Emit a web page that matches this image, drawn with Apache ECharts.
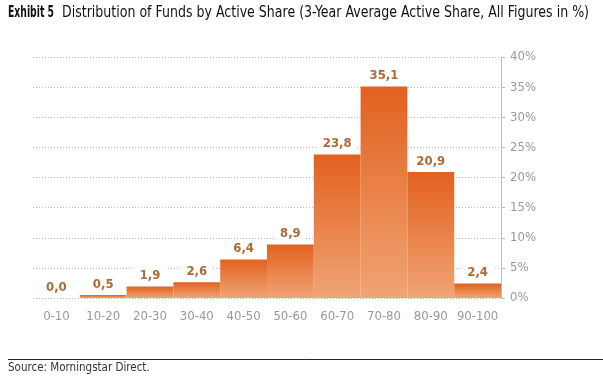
<!DOCTYPE html>
<html><head><meta charset="utf-8">
<script src="https://cdn.jsdelivr.net/npm/echarts@6/dist/echarts.min.js"></script>
<style>html,body{margin:0;padding:0;background:#fff}#c{width:603px;height:379px}</style>
</head><body><div id="c"></div>
<script>
const categories = ['0-10','10-20','20-30','30-40','40-50','50-60','60-70','70-80','80-90','90-100'];
const values = [0.0, 0.5, 1.9, 2.6, 6.4, 8.9, 23.8, 35.1, 20.9, 2.4];
const yTicks = [0, 5, 10, 15, 20, 25, 30, 35, 40];
const titleBold = 'Exhibit 5';
const titleRest = 'Distribution of Funds by Active Share (3-Year Average Active Share, All Figures in %)';
const FONT = "'DejaVu Sans Condensed', 'Liberation Sans Narrow', sans-serif";

const ctx = document.createElement('canvas').getContext('2d');
function widthOf(text, font) { ctx.font = font; return ctx.measureText(text).width; }
const TSIZE = 16;
const boldFont = 'bold ' + TSIZE + 'px ' + FONT;
const restFont = TSIZE + 'px ' + FONT;
const boldScale = 46 / widthOf(titleBold, boldFont);
const restScale = 527 / widthOf(titleRest, restFont);

const chart = echarts.init(document.getElementById('c'));
chart.setOption({
  animation: false,
  grid: { left: 33, right: 102, top: 57, bottom: 81, containLabel: false },
  graphic: [
    { type: 'text', x: 8, y: 5, scaleX: boldScale, style: { text: titleBold, font: boldFont, fill: '#111' } },
    { type: 'text', x: 62, y: 5, scaleX: restScale, style: { text: titleRest, font: restFont, fill: '#111' } },
    { type: 'line', shape: { x1: 8, y1: 359.5, x2: 603, y2: 359.5 }, style: { stroke: '#222', lineWidth: 1 } },
    { type: 'text', x: 8, y: 362, style: { text: 'Source: Morningstar Direct.', font: "11.5px " + FONT, fill: '#333' } }
  ],
  xAxis: {
    type: 'category', data: categories,
    axisLine: { show: false }, axisTick: { show: false },
    axisLabel: { color: '#999', fontFamily: FONT, fontSize: 13, margin: 12, interval: 0 }
  },
  yAxis: {
    type: 'value', position: 'right', min: 0, max: 40, interval: 5,
    axisLine: { show: true, lineStyle: { color: '#bbb' } },
    axisTick: { show: true, length: 4, lineStyle: { color: '#bbb' } },
    axisLabel: { color: '#999', fontFamily: FONT, fontSize: 13, margin: 9,
      formatter: v => yTicks.includes(v) ? v + '%' : '' },
    splitLine: { show: true, lineStyle: { color: '#bbb', type: [1, 2] } }
  },
  series: [{
    type: 'bar', data: values, barCategoryGap: '0%',
    itemStyle: {
      color: new echarts.graphic.LinearGradient(0, 0, 0, 1, [
        { offset: 0, color: '#e2611f' }, { offset: 1, color: '#f0a474' }
      ])
    },
    label: {
      show: true, position: 'top', distance: 3,
      formatter: p => p.value.toFixed(1).replace('.', ','),
      color: '#ae6a36', fontWeight: 'bold', fontFamily: FONT, fontSize: 13,
      backgroundColor: '#fff', padding: [2, 5, 1, 5]
    }
  }]
});
</script></body></html>
